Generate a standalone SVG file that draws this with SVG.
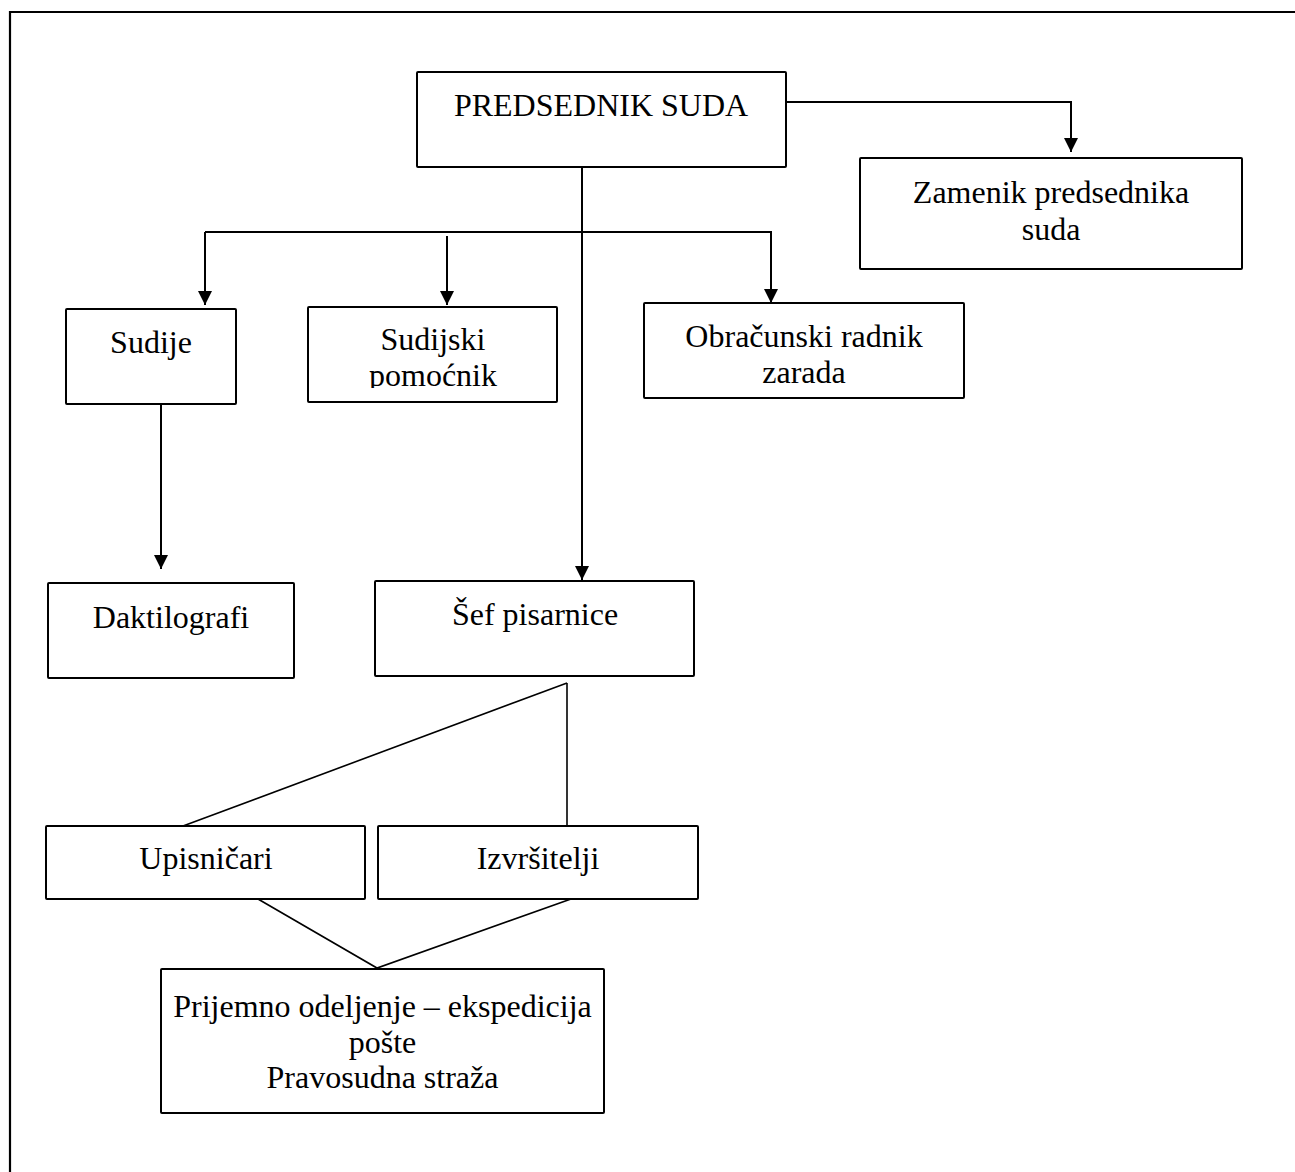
<svg xmlns="http://www.w3.org/2000/svg" width="1295" height="1172" viewBox="0 0 1295 1172">
<style>
.box{fill:#fff;stroke:#000;stroke-width:2}
.t{font-family:"Liberation Serif","Times New Roman",serif;font-size:32px;fill:#000;text-anchor:middle}
.c{fill:none;stroke:#000;stroke-width:2}
.d{fill:none;stroke:#000;stroke-width:1.6}
</style>
<defs>
<marker id="ah" viewBox="0 0 14 14" refX="14" refY="7" markerWidth="14" markerHeight="14" markerUnits="userSpaceOnUse" orient="auto">
<path d="M0,0 L14,7 L0,14 z" fill="#000"/>
</marker>
<clipPath id="clipSP"><rect x="300" y="300" width="270" height="88"/></clipPath>
</defs>
<rect width="1295" height="1172" fill="#fff"/>
<path d="M10,1172 V12 H1295" fill="none" stroke="#000" stroke-width="2.2"/>
<g id="connectors">
<path class="c" d="M786,102 H1071 V152" marker-end="url(#ah)"/>
<path class="c" d="M582,167 V580" marker-end="url(#ah)"/>
<path class="c" d="M205,232 H771 V303" marker-end="url(#ah)"/>
<path class="c" d="M205,232 V305" marker-end="url(#ah)"/>
<path class="c" d="M447,236 V305" marker-end="url(#ah)"/>
<path class="c" d="M161,402 V569" marker-end="url(#ah)"/>
<path class="d" d="M567,683 L183,826"/>
<path class="d" d="M567,683 V830"/>
<path class="d" d="M258,899 L377,968 L571,899"/>
</g>
<g id="predsednik">
<rect class="box" x="417" y="72" width="369" height="95" rx="1"/>
<text class="t" x="601" y="116">PREDSEDNIK SUDA</text>
</g>
<g id="zamenik">
<rect class="box" x="860" y="158" width="382" height="111" rx="1"/>
<text class="t" x="1051" y="203">Zamenik predsednika</text>
<text class="t" x="1051" y="240">suda</text>
</g>
<g id="sudije">
<rect class="box" x="66" y="309" width="170" height="95" rx="1"/>
<text class="t" x="151" y="353">Sudije</text>
</g>
<g id="sudijski">
<rect class="box" x="308" y="307" width="249" height="95" rx="1"/>
<g clip-path="url(#clipSP)">
<text class="t" x="433" y="350">Sudijski</text>
<text class="t" x="433" y="386">pomoćnik</text>
</g>
</g>
<g id="obracunski">
<rect class="box" x="644" y="303" width="320" height="95" rx="1"/>
<text class="t" x="804" y="347">Obračunski radnik</text>
<text class="t" x="804" y="383">zarada</text>
</g>
<g id="daktilografi">
<rect class="box" x="48" y="583" width="246" height="95" rx="1"/>
<text class="t" x="171" y="628">Daktilografi</text>
</g>
<g id="sef">
<rect class="box" x="375" y="581" width="319" height="95" rx="1"/>
<text class="t" x="535" y="625">Šef pisarnice</text>
</g>
<g id="upisnicari">
<rect class="box" x="46" y="826" width="319" height="73" rx="1"/>
<text class="t" x="206" y="869">Upisničari</text>
</g>
<g id="izvrsitelji">
<rect class="box" x="378" y="826" width="320" height="73" rx="1"/>
<text class="t" x="538" y="869">Izvršitelji</text>
</g>
<g id="prijemno">
<rect class="box" x="161" y="969" width="443" height="144" rx="1"/>
<text class="t" x="382.5" y="1017">Prijemno odeljenje – ekspedicija</text>
<text class="t" x="382.5" y="1053">pošte</text>
<text class="t" x="382.5" y="1088">Pravosudna straža</text>
</g>
</svg>
